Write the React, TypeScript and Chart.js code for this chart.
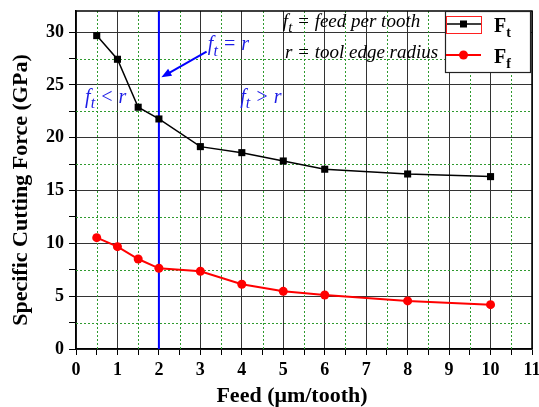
import React, { useEffect, useRef } from 'react';
import { Chart, registerables } from 'chart.js';

Chart.register(...registerables);

// ---- data ----
const feed = [0.5, 1, 1.5, 2, 3, 4, 5, 6, 8, 10];
const ftValues = [29.67, 27.43, 22.89, 21.78, 19.16, 18.59, 17.8, 17.02, 16.57, 16.32];
const ffValues = [10.54, 9.69, 8.52, 7.64, 7.36, 6.13, 5.46, 5.11, 4.55, 4.2];
const seriesNames = ['F', 'F'];
const seriesSubs = ['t', 'f'];
const xRange = [0, 11];
const yRange = [0, 32];
const xTickStep = 0.5;
const yTickStep = 2.5;
const xLabelEvery = 1;
const yLabelEvery = 5;
const thresholdFeed = 2;
const xTitle = 'Feed (\u03bcm/tooth)';
const yTitle = 'Specific Cutting Force (GPa)';

const FONT = '"Liberation Serif", "Times New Roman", serif';

type Seg = { t: string; sub?: boolean };

function drawRich(
  ctx: CanvasRenderingContext2D,
  x: number,
  y: number,
  segs: Seg[],
  size: number,
  style: string,
  color: string,
  subScale = 0.8,
  subDrop = 0.28
) {
  ctx.fillStyle = color;
  ctx.textAlign = 'left';
  ctx.textBaseline = 'alphabetic';
  let cx = x;
  for (const s of segs) {
    const sz = s.sub ? Math.round(size * subScale) : size;
    ctx.font = `${style} ${sz}px ${FONT}`;
    ctx.fillText(s.t, cx, s.sub ? y + size * subDrop : y);
    cx += ctx.measureText(s.t).width;
  }
}

const isMult = (v: number, m: number) => Math.abs(v / m - Math.round(v / m)) < 1e-6;

const decor = {
  id: 'decor',
  beforeDatasetsDraw(chart: any) {
    const { ctx, chartArea: a, scales } = chart;
    const xs = scales.x;
    const ys = scales.y;
    ctx.save();
    // minor dashed grid
    ctx.strokeStyle = '#2f9a2f';
    ctx.lineWidth = 1;
    ctx.setLineDash([2, 2]);
    for (const t of xs.ticks) {
      if (isMult(t.value, xLabelEvery)) continue;
      const px = Math.round(xs.getPixelForValue(t.value)) + 0.5;
      ctx.beginPath();
      ctx.moveTo(px, a.top);
      ctx.lineTo(px, a.bottom);
      ctx.stroke();
    }
    for (const t of ys.ticks) {
      if (isMult(t.value, yLabelEvery)) continue;
      const py = Math.round(ys.getPixelForValue(t.value)) + 0.5;
      ctx.beginPath();
      ctx.moveTo(a.left, py);
      ctx.lineTo(a.right, py);
      ctx.stroke();
    }
    ctx.setLineDash([]);
    // frame top/right
    ctx.strokeStyle = '#000';
    ctx.lineWidth = 1.5;
    ctx.beginPath();
    ctx.moveTo(a.left, a.top);
    ctx.lineTo(a.right, a.top);
    ctx.lineTo(a.right, a.bottom);
    ctx.stroke();
    // threshold line
    const bx = xs.getPixelForValue(thresholdFeed);
    ctx.strokeStyle = '#0000ff';
    ctx.lineWidth = 2;
    ctx.beginPath();
    ctx.moveTo(bx, a.top);
    ctx.lineTo(bx, a.bottom);
    ctx.stroke();
    ctx.restore();
  },
  afterDatasetsDraw(chart: any) {
    const { ctx, scales } = chart;
    const xs = scales.x;
    const ys = scales.y;
    const P = (x: number, y: number) => [xs.getPixelForValue(x), ys.getPixelForValue(y)];
    ctx.save();
    const blue = '#1c1ce6';
    // blue annotations
    let [tx, ty] = P(3.18, 28.3);
    drawRich(ctx, tx, ty, [{ t: 'f' }, { t: 't', sub: true }, { t: ' = r' }], 20, 'italic', blue);
    [tx, ty] = P(0.22, 23.3);
    drawRich(ctx, tx, ty, [{ t: 'f' }, { t: 't', sub: true }, { t: ' < r' }], 20, 'italic', blue);
    [tx, ty] = P(3.96, 23.3);
    drawRich(ctx, tx, ty, [{ t: 'f' }, { t: 't', sub: true }, { t: ' > r' }], 20, 'italic', blue);
    // arrow
    const [sx, sy] = P(3.15, 28.15);
    const [ex, ey] = P(2.06, 25.73);
    ctx.strokeStyle = '#0000ff';
    ctx.fillStyle = '#0000ff';
    ctx.lineWidth = 2;
    const ang = Math.atan2(ey - sy, ex - sx);
    const hl = 10;
    const hw = 4;
    ctx.beginPath();
    ctx.moveTo(sx, sy);
    ctx.lineTo(ex - Math.cos(ang) * hl * 0.8, ey - Math.sin(ang) * hl * 0.8);
    ctx.stroke();
    ctx.beginPath();
    ctx.moveTo(ex, ey);
    ctx.lineTo(ex - Math.cos(ang) * hl - Math.sin(ang) * hw, ey - Math.sin(ang) * hl + Math.cos(ang) * hw);
    ctx.lineTo(ex - Math.cos(ang) * hl + Math.sin(ang) * hw, ey - Math.sin(ang) * hl - Math.cos(ang) * hw);
    ctx.closePath();
    ctx.fill();
    // black definitions
    [tx, ty] = P(4.99, 30.5);
    drawRich(ctx, tx, ty, [{ t: 'f' }, { t: 't', sub: true }, { t: ' = feed per tooth' }], 19, 'italic', '#000');
    [tx, ty] = P(5.04, 27.55);
    drawRich(ctx, tx, ty, [{ t: 'r = tool edge radius' }], 19, 'italic', '#000');

    // legend box
    const lx = 445, ly = 11, lw = 85, lh = 61;
    ctx.fillStyle = '#fff';
    ctx.fillRect(lx, ly, lw, lh);
    ctx.strokeStyle = '#222';
    ctx.lineWidth = 1.2;
    ctx.strokeRect(lx + 0.5, ly + 0.5, lw, lh);
    const ds = chart.data.datasets;
    const rows = [24, 55];
    for (let i = 0; i < 2; i++) {
      const d = ds[i];
      const yy = rows[i];
      ctx.strokeStyle = d.borderColor;
      ctx.lineWidth = d.borderWidth;
      ctx.beginPath();
      ctx.moveTo(446, yy);
      ctx.lineTo(481, yy);
      ctx.stroke();
      ctx.fillStyle = d.backgroundColor;
      if (d.pointStyle === 'rect') {
        ctx.fillRect(463.5 - 3.5, yy - 3.5, 7, 7);
      } else {
        ctx.beginPath();
        ctx.arc(463.5, yy, 4.5, 0, Math.PI * 2);
        ctx.fill();
      }
      drawRich(ctx, 494, yy + 8, [{ t: seriesNames[i] }, { t: seriesSubs[i], sub: true }], 20, 'bold', '#000', 0.72, 0.25);
    }
    // selection rectangle around first legend item
    ctx.strokeStyle = '#ff2020';
    ctx.lineWidth = 1;
    ctx.strokeRect(446.5, 16.5, 35, 17);

    // axis titles
    ctx.fillStyle = '#000';
    ctx.font = `bold 22px ${FONT}`;
    ctx.textAlign = 'center';
    ctx.textBaseline = 'alphabetic';
    ctx.fillText(xTitle, 292, 402);
    ctx.save();
    ctx.translate(27, 190);
    ctx.rotate(-Math.PI / 2);
    ctx.fillText(yTitle, 0, 0);
    ctx.restore();
    ctx.restore();
  },
};

export default function App() {
  const ref = useRef<HTMLCanvasElement | null>(null);
  useEffect(() => {
    if (!ref.current) return;
    const tickFont = { family: FONT, size: 18, weight: 'bold' as const };
    const chart = new Chart(ref.current, {
      type: 'line',
      data: {
        datasets: [
          {
            label: 'Ft',
            data: feed.map((x, i) => ({ x, y: ftValues[i] })),
            borderColor: '#000000',
            backgroundColor: '#000000',
            borderWidth: 1.5,
            pointStyle: 'rect',
            pointRadius: 5,
            pointBorderWidth: 0,
            tension: 0,
          },
          {
            label: 'Ff',
            data: feed.map((x, i) => ({ x, y: ffValues[i] })),
            borderColor: '#ff0000',
            backgroundColor: '#ff0000',
            borderWidth: 2,
            pointStyle: 'circle',
            pointRadius: 4.5,
            pointBorderWidth: 0,
            tension: 0,
          },
        ],
      },
      options: {
        animation: false,
        responsive: false,
        devicePixelRatio: 1,
        layout: { padding: { left: 0, top: 11, right: 7, bottom: 0 } },
        plugins: { legend: { display: false }, tooltip: { enabled: false } },
        scales: {
          x: {
            type: 'linear',
            min: xRange[0],
            max: xRange[1],
            ticks: {
              stepSize: xTickStep,
              autoSkip: false,
              maxRotation: 0,
              color: '#000',
              font: tickFont,
              padding: 5,
              callback: (v: any) => (isMult(Number(v), xLabelEvery) ? String(v) : ''),
            },
            grid: {
              color: (c: any) => (c.tick && isMult(c.tick.value, xLabelEvery) ? '#333333' : 'rgba(0,0,0,0)'),
              tickColor: '#000',
              tickLength: 6,
              lineWidth: 1,
            },
            border: { color: '#000', width: 1.5 },
            afterFit: (s: any) => {
              s.height = 58;
              s.paddingLeft = 0;
              s.paddingRight = 0;
            },
          },
          y: {
            type: 'linear',
            min: yRange[0],
            max: yRange[1],
            ticks: {
              stepSize: yTickStep,
              includeBounds: false,
              autoSkip: false,
              color: '#000',
              font: tickFont,
              padding: 5,
              callback: (v: any) => (isMult(Number(v), yLabelEvery) ? String(v) : ''),
            },
            grid: {
              color: (c: any) => (c.tick && isMult(c.tick.value, yLabelEvery) ? '#333333' : 'rgba(0,0,0,0)'),
              tickColor: '#000',
              tickLength: 7,
              lineWidth: 1,
            },
            border: { color: '#000', width: 1.5 },
            afterFit: (s: any) => {
              s.width = 76;
              s.paddingTop = 0;
              s.paddingBottom = 0;
            },
          },
        },
      },
      plugins: [decor],
    });
    return () => chart.destroy();
  }, []);
  return (
    <div style={{ position: 'absolute', left: 0, top: 0, width: 539, height: 407, background: '#fff' }}>
      <canvas ref={ref} width={539} height={407} style={{ display: 'block' }} />
    </div>
  );
}
